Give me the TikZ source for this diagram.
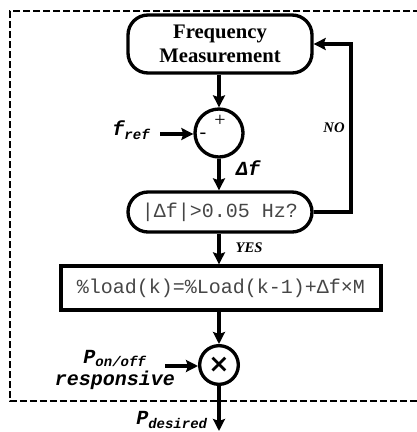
\documentclass[tikz,border=0pt]{standalone}
\usepackage{fontspec}
\setmainfont{Liberation Serif}
\newfontfamily\cour{Liberation Mono}
\newfontfamily\djv{DejaVu Sans}
\usetikzlibrary{arrows.meta}
\definecolor{txtgray}{RGB}{70,70,70}
\begin{document}
\begin{tikzpicture}[x=0.75pt,y=-0.75pt,
  line width=2.5pt,
  arr/.style={-{Stealth[length=9pt,width=9pt,inset=1.5pt]}},
  rbox/.style={draw,rounded corners=15pt,minimum width=138pt,inner sep=0pt,align=center},
  sbox/.style={draw,minimum width=240pt,minimum height=33pt,inner sep=0pt},
  circ/.style={draw,circle,inner sep=0pt},
  lab/.style={font=\cour\bfseries\itshape\fontsize{15}{17}\selectfont,inner sep=0pt},
  ylab/.style={font=\bfseries\itshape\fontsize{11}{13}\selectfont,inner sep=0pt},
  btxt/.style={font=\cour\fontsize{15}{17}\selectfont,text=txtgray}]
\useasboundingbox (0,0) rectangle (417,432);
% dashed frame
\draw[line width=1.6pt,dash pattern=on 5pt off 2.5pt] (420,11) -| (10,401) -- (420,401);

\node[rbox,minimum height=43.5pt,font=\bfseries\fontsize{15.5}{17.5}\selectfont] (fm) at (220,44) {Frequency\\Measurement};
\node[circ,minimum size=36pt] (sum) at (219,133) {};
\node[font=\fontsize{15}{15}\selectfont,inner sep=0pt] (plus) at (220,121) {+};
\node[font=\fontsize{15}{15}\selectfont,inner sep=0pt] (minus) at (203,136) {-};
\node[rbox,minimum height=30pt,btxt] (dec) at (220,212) {|Δf|>0.05 Hz?};
\node[sbox,btxt] (form) at (221,288) {\%load(k)=\%Load(k-1)+Δf×M};
\node[circ,minimum size=29pt] (mul) at (219,365) {};
\node[font=\djv\bfseries\fontsize{19}{19}\selectfont,inner sep=0pt] (x) at (219,365) {×};

\node[lab,anchor=east] (fref) at (152,130) {f\textsubscript{ref}};
\coordinate (frefs) at (160,134);
\node[lab] (df) at (248,168) {Δf};
\node[ylab] (no) at (334,128) {NO};
\node[ylab] (yes) at (249,248) {YES};
\node[lab,align=center] (pon) at (115,370) {P\textsubscript{on/off}\\responsive};
\coordinate (pons) at (165,366);
\node[lab] (pdes) at (172,420) {P\textsubscript{desired}};
\coordinate (out) at (219,431);
\coordinate (loop) at (351,212);

\draw[arr] (fm.south -| sum) -- (sum.north);
\draw[arr] (frefs) -- (frefs -| sum.west);
\draw[arr] (sum.south) -- (sum |- dec.north);
\draw[arr] (dec.east) -- (loop) |- (fm.east);
\draw[arr] (sum |- dec.south) -- (sum |- form.north);
\draw[arr] (sum |- form.south) -- (mul.north);
\draw[arr] (pons) -- (pons -| mul.west);
\draw[arr] (mul.south) -- (out);
\end{tikzpicture}
\end{document}
